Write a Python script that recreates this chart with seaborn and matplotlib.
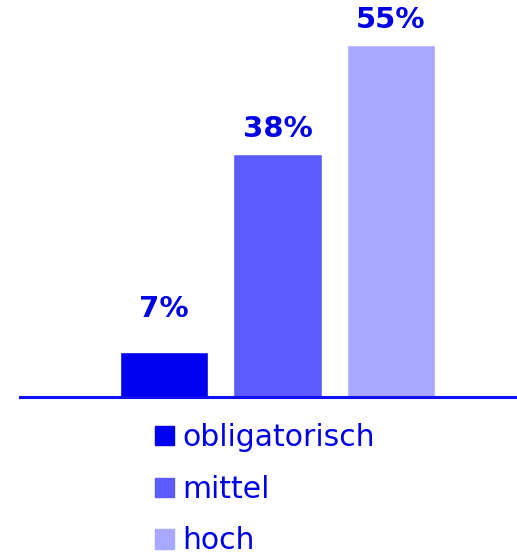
import matplotlib
matplotlib.use("Agg")
import matplotlib.pyplot as plt
import seaborn as sns
import pandas as pd

# -----------------------------
# Datos
# -----------------------------
categorias = ["obligatorisch", "mittel", "hoch"]
valores = [7, 38, 55]
etiquetas = ["7%", "38%", "55%"]
colores = ["#0000F0", "#5B5BFF", "#A8A8FF"]
color_texto = "#0000E6"

df = pd.DataFrame({"categoria": categorias, "valor": valores})

sns.set_style("white")
plt.rcParams["font.family"] = ["DejaVu Sans"]

fig = plt.figure(figsize=(5.17, 5.54), dpi=100)
ax = fig.add_axes([20 / 517, 1 - 397 / 554, 497 / 517, 397 / 554])

sns.barplot(
    data=df, x="categoria", y="valor", hue="categoria",
    palette=colores, width=0.78, dodge=False, legend=False,
    saturation=1, ax=ax,
)

# etiquetas sobre las barras
for i, (v, t) in enumerate(zip(valores, etiquetas)):
    ax.text(i, max(v, 10) + 3.8, t, ha="center", va="center",
            fontsize=21, fontweight="bold", color=color_texto)

ax.set_xlim(-1.27, 3.11)
ax.set_ylim(0, 62)
ax.set_xticks([])
ax.set_yticks([])
ax.set_xlabel("")
ax.set_ylabel("")
for s in ["top", "right", "left"]:
    ax.spines[s].set_visible(False)
ax.spines["bottom"].set_color("#1010F0")
ax.spines["bottom"].set_linewidth(2.2)

# leyenda
handles = [plt.Rectangle((0, 0), 1, 1, color=c) for c in colores]
leg = fig.legend(
    handles, categorias, loc="upper left",
    bbox_to_anchor=(155 / 517, 1 - 423 / 554), frameon=False,
    fontsize=21.5, handlelength=0.62, handleheight=0.62, handletextpad=0.3,
    labelspacing=0.76, borderpad=0, borderaxespad=0,
)
for t in leg.get_texts():
    t.set_color(color_texto)

fig.savefig("out.png", dpi=100)
